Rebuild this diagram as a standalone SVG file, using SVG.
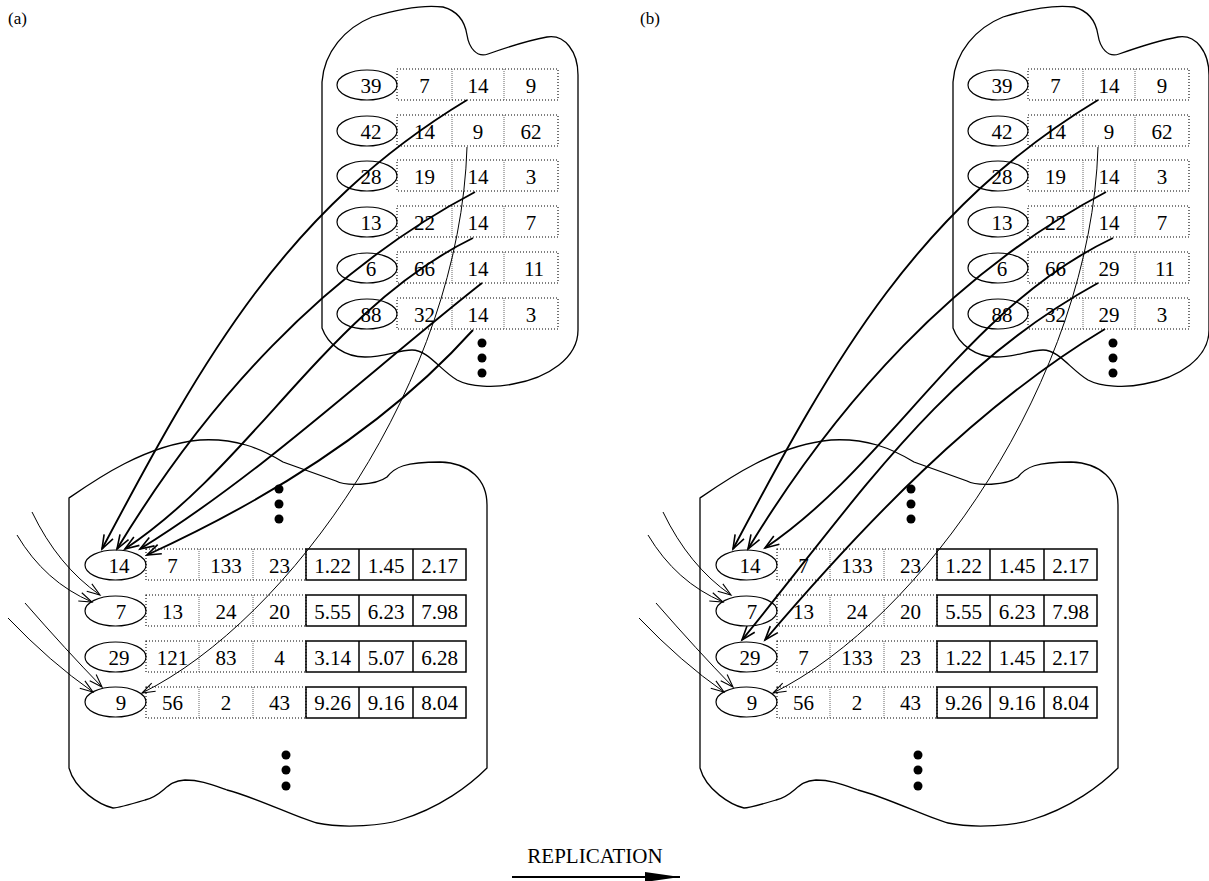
<svg xmlns="http://www.w3.org/2000/svg" width="1209" height="881" viewBox="0 0 1209 881">
<style>
.blob{fill:none;stroke:#000;stroke-width:1.3}
.el{fill:#fff;stroke:#000;stroke-width:1.2}
.dc{fill:none;stroke:#000;stroke-width:1.1;stroke-dasharray:1 2}
.dv{stroke:#666;stroke-width:1;stroke-dasharray:1 1}
.sc{fill:none;stroke:#000;stroke-width:1.5}
text{font-family:"Liberation Serif","Times New Roman",serif;font-size:21px;text-anchor:middle;fill:#000}
.lbl{font-size:17px;text-anchor:start}
.thick{fill:none;stroke:#000;stroke-width:1.9;marker-end:url(#hT)}
.thin{fill:none;stroke:#000;stroke-width:1;marker-end:url(#ht)}
.dot{fill:#000}
</style>
<defs>
<marker id="hT" markerUnits="userSpaceOnUse" markerWidth="20" markerHeight="14" viewBox="-16 -7 20 14" refX="0" refY="0" orient="auto" overflow="visible"><path d="M-14,-5 L0,0 L-14,5" fill="none" stroke="#000" stroke-width="1.6"/></marker>
<marker id="ht" markerUnits="userSpaceOnUse" markerWidth="20" markerHeight="14" viewBox="-16 -7 20 14" refX="0" refY="0" orient="auto" overflow="visible"><path d="M-13,-4.5 L0,0 L-13,4.5" fill="none" stroke="#000" stroke-width="1.1"/></marker>
<marker id="hF" markerUnits="userSpaceOnUse" markerWidth="40" markerHeight="14" viewBox="-36 -7 40 14" refX="0" refY="0" orient="auto" overflow="visible"><path d="M-35,-5 L0,0 L-35,5 Z" fill="#000"/></marker>
<path id="topBlob" d="M322,328 L322,82 C324,52 345,28 372,17 C395,10 420,4 443,7 C458,11 465,22 467,35 C469,48 477,58 488,54 C505,48 525,41 547,37 C565,34 578,52 578,75 L578,330 C578,358 548,378 513,384 C495,388 470,387 457,380 C440,370 428,350 412,350 C398,350 385,357 365,357 C345,357 328,345 322,328 Z"/>
<path id="botBlob" d="M69,768 L69,498 C95,480 145,445 200,440 C235,438 260,448 283,462 L336,481 C345,486 375,486 387,477 C395,467 405,462 440,462 C470,463 487,480 487,505 L487,768 C470,785 440,808 400,820 C385,825 345,829 317,823 C300,819 255,797 227,790 C210,784 200,780 185,780 C165,781 165,795 145,800 C125,806 117,808 113,808 C100,805 75,790 69,768 Z"/>
</defs>

<text class="lbl" x="8" y="24">(a)</text>
<text class="lbl" x="640" y="24">(b)</text>

<!-- ================= PANEL A ================= -->
<g id="panel-a">
<g id="a-source">
<use href="#topBlob" class="blob"/>
<g id="a-s1"><ellipse class="el" cx="367" cy="85" rx="30" ry="15"/><rect class="dc" x="397" y="69" width="161" height="31"/><line class="dv" x1="452" y1="69" x2="452" y2="100"/><line class="dv" x1="504" y1="69" x2="504" y2="100"/><text x="371" y="92.5">39</text><text x="424.5" y="92.5">7</text><text x="478" y="92.5">14</text><text x="531" y="92.5">9</text></g>
<g id="a-s2"><ellipse class="el" cx="367" cy="131" rx="30" ry="15"/><rect class="dc" x="397" y="115" width="161" height="31"/><line class="dv" x1="452" y1="115" x2="452" y2="146"/><line class="dv" x1="504" y1="115" x2="504" y2="146"/><text x="371" y="138.5">42</text><text x="424.5" y="138.5">14</text><text x="478" y="138.5">9</text><text x="531" y="138.5">62</text></g>
<g id="a-s3"><ellipse class="el" cx="367" cy="176" rx="30" ry="15"/><rect class="dc" x="397" y="160" width="161" height="31"/><line class="dv" x1="452" y1="160" x2="452" y2="191"/><line class="dv" x1="504" y1="160" x2="504" y2="191"/><text x="371" y="183.5">28</text><text x="424.5" y="183.5">19</text><text x="478" y="183.5">14</text><text x="531" y="183.5">3</text></g>
<g id="a-s4"><ellipse class="el" cx="367" cy="222" rx="30" ry="15"/><rect class="dc" x="397" y="206" width="161" height="31"/><line class="dv" x1="452" y1="206" x2="452" y2="237"/><line class="dv" x1="504" y1="206" x2="504" y2="237"/><text x="371" y="229.5">13</text><text x="424.5" y="229.5">22</text><text x="478" y="229.5">14</text><text x="531" y="229.5">7</text></g>
<g id="a-s5"><ellipse class="el" cx="367" cy="268" rx="30" ry="15"/><rect class="dc" x="397" y="252" width="161" height="31"/><line class="dv" x1="452" y1="252" x2="452" y2="283"/><line class="dv" x1="504" y1="252" x2="504" y2="283"/><text x="371" y="275.5">6</text><text x="424.5" y="275.5">66</text><text x="478" y="275.5">14</text><text x="534" y="275.5">11</text></g>
<g id="a-s6"><ellipse class="el" cx="367" cy="314" rx="30" ry="15"/><rect class="dc" x="397" y="298" width="161" height="31"/><line class="dv" x1="452" y1="298" x2="452" y2="329"/><line class="dv" x1="504" y1="298" x2="504" y2="329"/><text x="371" y="321.5">88</text><text x="424.5" y="321.5">32</text><text x="478" y="321.5">14</text><text x="531" y="321.5">3</text></g>
<circle class="dot" cx="482" cy="343" r="4.5"/><circle class="dot" cx="482" cy="358" r="4.5"/><circle class="dot" cx="482" cy="373" r="4.5"/>
</g>

<g id="a-target">
<use href="#botBlob" class="blob"/>
<circle class="dot" cx="279" cy="489" r="4.5"/><circle class="dot" cx="279" cy="504" r="4.5"/><circle class="dot" cx="279" cy="519" r="4.5"/>
<g id="a-t1"><ellipse class="el" cx="115.5" cy="565" rx="30.5" ry="15"/><rect class="dc" x="146" y="549" width="160" height="31"/><line class="dv" x1="199" y1="549" x2="199" y2="580"/><line class="dv" x1="253" y1="549" x2="253" y2="580"/><rect class="sc" x="306" y="549" width="160" height="31"/><line class="sc" x1="359" y1="549" x2="359" y2="580"/><line class="sc" x1="413" y1="549" x2="413" y2="580"/><text x="119" y="572.5">14</text><text x="172.5" y="572.5">7</text><text x="226" y="572.5">133</text><text x="279.5" y="572.5">23</text><text x="332.5" y="572.5">1.22</text><text x="386" y="572.5">1.45</text><text x="439.5" y="572.5">2.17</text></g>
<g id="a-t2"><ellipse class="el" cx="115.5" cy="611" rx="30.5" ry="15"/><rect class="dc" x="146" y="595" width="160" height="31"/><line class="dv" x1="199" y1="595" x2="199" y2="626"/><line class="dv" x1="253" y1="595" x2="253" y2="626"/><rect class="sc" x="306" y="595" width="160" height="31"/><line class="sc" x1="359" y1="595" x2="359" y2="626"/><line class="sc" x1="413" y1="595" x2="413" y2="626"/><text x="121" y="618.5">7</text><text x="172.5" y="618.5">13</text><text x="226" y="618.5">24</text><text x="279.5" y="618.5">20</text><text x="332.5" y="618.5">5.55</text><text x="386" y="618.5">6.23</text><text x="439.5" y="618.5">7.98</text></g>
<g id="a-t3"><ellipse class="el" cx="115.5" cy="657" rx="30.5" ry="15"/><rect class="dc" x="146" y="641" width="160" height="31"/><line class="dv" x1="199" y1="641" x2="199" y2="672"/><line class="dv" x1="253" y1="641" x2="253" y2="672"/><rect class="sc" x="306" y="641" width="160" height="31"/><line class="sc" x1="359" y1="641" x2="359" y2="672"/><line class="sc" x1="413" y1="641" x2="413" y2="672"/><text x="119" y="664.5">29</text><text x="172.5" y="664.5">121</text><text x="226" y="664.5">83</text><text x="279.5" y="664.5">4</text><text x="332.5" y="664.5">3.14</text><text x="386" y="664.5">5.07</text><text x="439.5" y="664.5">6.28</text></g>
<g id="a-t4"><ellipse class="el" cx="115.5" cy="702" rx="30.5" ry="15"/><rect class="dc" x="146" y="687" width="160" height="31"/><line class="dv" x1="199" y1="687" x2="199" y2="718"/><line class="dv" x1="253" y1="687" x2="253" y2="718"/><rect class="sc" x="306" y="687" width="160" height="31"/><line class="sc" x1="359" y1="687" x2="359" y2="718"/><line class="sc" x1="413" y1="687" x2="413" y2="718"/><text x="121" y="709.5">9</text><text x="172.5" y="709.5">56</text><text x="226" y="709.5">2</text><text x="279.5" y="709.5">43</text><text x="332.5" y="709.5">9.26</text><text x="386" y="709.5">9.16</text><text x="439.5" y="709.5">8.04</text></g>
<circle class="dot" cx="286" cy="755" r="4.5"/><circle class="dot" cx="286" cy="770" r="4.5"/><circle class="dot" cx="286" cy="786" r="4.5"/>
</g>

<g id="a-connectors">
<path class="thick" d="M467,100 C287,209 204,356 102,549"/>
<path class="thick" d="M475,192 C323,272 205,404 117,549"/>
<path class="thick" d="M473,238 C328,309 254,463 125,549"/>
<path class="thick" d="M482,283 C369,372 260,475 140,549"/>
<path class="thick" d="M473,330 C384,429 267,500 147,555"/>
<path class="thin" d="M467,147 C460,380 290,620 142,693"/>
<path class="thin" d="M32,512 Q58,566 100,595"/>
<path class="thin" d="M17,535 Q45,582 92,602"/>
<path class="thin" d="M25,603 Q66,650 102,687"/>
<path class="thin" d="M8,618 Q50,662 93,692"/>
</g>
</g>

<!-- ================= PANEL B ================= -->
<g id="panel-b" transform="translate(631,0)">
<g id="b-source">
<use href="#topBlob" class="blob"/>
<g id="b-s1"><ellipse class="el" cx="367" cy="85" rx="30" ry="15"/><rect class="dc" x="397" y="69" width="161" height="31"/><line class="dv" x1="452" y1="69" x2="452" y2="100"/><line class="dv" x1="504" y1="69" x2="504" y2="100"/><text x="371" y="92.5">39</text><text x="424.5" y="92.5">7</text><text x="478" y="92.5">14</text><text x="531" y="92.5">9</text></g>
<g id="b-s2"><ellipse class="el" cx="367" cy="131" rx="30" ry="15"/><rect class="dc" x="397" y="115" width="161" height="31"/><line class="dv" x1="452" y1="115" x2="452" y2="146"/><line class="dv" x1="504" y1="115" x2="504" y2="146"/><text x="371" y="138.5">42</text><text x="424.5" y="138.5">14</text><text x="478" y="138.5">9</text><text x="531" y="138.5">62</text></g>
<g id="b-s3"><ellipse class="el" cx="367" cy="176" rx="30" ry="15"/><rect class="dc" x="397" y="160" width="161" height="31"/><line class="dv" x1="452" y1="160" x2="452" y2="191"/><line class="dv" x1="504" y1="160" x2="504" y2="191"/><text x="371" y="183.5">28</text><text x="424.5" y="183.5">19</text><text x="478" y="183.5">14</text><text x="531" y="183.5">3</text></g>
<g id="b-s4"><ellipse class="el" cx="367" cy="222" rx="30" ry="15"/><rect class="dc" x="397" y="206" width="161" height="31"/><line class="dv" x1="452" y1="206" x2="452" y2="237"/><line class="dv" x1="504" y1="206" x2="504" y2="237"/><text x="371" y="229.5">13</text><text x="424.5" y="229.5">22</text><text x="478" y="229.5">14</text><text x="531" y="229.5">7</text></g>
<g id="b-s5"><ellipse class="el" cx="367" cy="268" rx="30" ry="15"/><rect class="dc" x="397" y="252" width="161" height="31"/><line class="dv" x1="452" y1="252" x2="452" y2="283"/><line class="dv" x1="504" y1="252" x2="504" y2="283"/><text x="371" y="275.5">6</text><text x="424.5" y="275.5">66</text><text x="478" y="275.5">29</text><text x="534" y="275.5">11</text></g>
<g id="b-s6"><ellipse class="el" cx="367" cy="314" rx="30" ry="15"/><rect class="dc" x="397" y="298" width="161" height="31"/><line class="dv" x1="452" y1="298" x2="452" y2="329"/><line class="dv" x1="504" y1="298" x2="504" y2="329"/><text x="371" y="321.5">88</text><text x="424.5" y="321.5">32</text><text x="478" y="321.5">29</text><text x="531" y="321.5">3</text></g>
<circle class="dot" cx="482" cy="343" r="4.5"/><circle class="dot" cx="482" cy="358" r="4.5"/><circle class="dot" cx="482" cy="373" r="4.5"/>
</g>

<g id="b-target">
<use href="#botBlob" class="blob"/>
<circle class="dot" cx="280" cy="489" r="4.5"/><circle class="dot" cx="280" cy="504" r="4.5"/><circle class="dot" cx="280" cy="519" r="4.5"/>
<g id="b-t1"><ellipse class="el" cx="115.5" cy="565" rx="30.5" ry="15"/><rect class="dc" x="146" y="549" width="160" height="31"/><line class="dv" x1="199" y1="549" x2="199" y2="580"/><line class="dv" x1="253" y1="549" x2="253" y2="580"/><rect class="sc" x="306" y="549" width="160" height="31"/><line class="sc" x1="359" y1="549" x2="359" y2="580"/><line class="sc" x1="413" y1="549" x2="413" y2="580"/><text x="119" y="572.5">14</text><text x="172.5" y="572.5">7</text><text x="226" y="572.5">133</text><text x="279.5" y="572.5">23</text><text x="332.5" y="572.5">1.22</text><text x="386" y="572.5">1.45</text><text x="439.5" y="572.5">2.17</text></g>
<g id="b-t2"><ellipse class="el" cx="115.5" cy="611" rx="30.5" ry="15"/><rect class="dc" x="146" y="595" width="160" height="31"/><line class="dv" x1="199" y1="595" x2="199" y2="626"/><line class="dv" x1="253" y1="595" x2="253" y2="626"/><rect class="sc" x="306" y="595" width="160" height="31"/><line class="sc" x1="359" y1="595" x2="359" y2="626"/><line class="sc" x1="413" y1="595" x2="413" y2="626"/><text x="121" y="618.5">7</text><text x="172.5" y="618.5">13</text><text x="226" y="618.5">24</text><text x="279.5" y="618.5">20</text><text x="332.5" y="618.5">5.55</text><text x="386" y="618.5">6.23</text><text x="439.5" y="618.5">7.98</text></g>
<g id="b-t3"><ellipse class="el" cx="115.5" cy="657" rx="30.5" ry="15"/><rect class="dc" x="146" y="641" width="160" height="31"/><line class="dv" x1="199" y1="641" x2="199" y2="672"/><line class="dv" x1="253" y1="641" x2="253" y2="672"/><rect class="sc" x="306" y="641" width="160" height="31"/><line class="sc" x1="359" y1="641" x2="359" y2="672"/><line class="sc" x1="413" y1="641" x2="413" y2="672"/><text x="119" y="664.5">29</text><text x="172.5" y="664.5">7</text><text x="226" y="664.5">133</text><text x="279.5" y="664.5">23</text><text x="332.5" y="664.5">1.22</text><text x="386" y="664.5">1.45</text><text x="439.5" y="664.5">2.17</text></g>
<g id="b-t4"><ellipse class="el" cx="115.5" cy="702" rx="30.5" ry="15"/><rect class="dc" x="146" y="687" width="160" height="31"/><line class="dv" x1="199" y1="687" x2="199" y2="718"/><line class="dv" x1="253" y1="687" x2="253" y2="718"/><rect class="sc" x="306" y="687" width="160" height="31"/><line class="sc" x1="359" y1="687" x2="359" y2="718"/><line class="sc" x1="413" y1="687" x2="413" y2="718"/><text x="121" y="709.5">9</text><text x="172.5" y="709.5">56</text><text x="226" y="709.5">2</text><text x="279.5" y="709.5">43</text><text x="332.5" y="709.5">9.26</text><text x="386" y="709.5">9.16</text><text x="439.5" y="709.5">8.04</text></g>
<circle class="dot" cx="287" cy="755" r="4.5"/><circle class="dot" cx="287" cy="770" r="4.5"/><circle class="dot" cx="287" cy="786" r="4.5"/>
</g>

<g id="b-connectors">
<path class="thick" d="M467,100 C287,209 204,356 102,549"/>
<path class="thick" d="M475,192 C323,272 205,404 117,549"/>
<path class="thick" d="M482,238 C333,309 260,463 134,548"/>
<path class="thick" d="M467,283 C309,370 230,494 111,640"/>
<path class="thick" d="M474,329 C344,407 231,526 134,640"/>
<path class="thin" d="M467,147 C460,380 290,620 142,693"/>
<path class="thin" d="M32,512 Q58,566 100,595"/>
<path class="thin" d="M17,535 Q45,582 92,602"/>
<path class="thin" d="M25,603 Q66,650 102,687"/>
<path class="thin" d="M8,618 Q50,662 93,692"/>
</g>
</g>

<g id="replication">
<text x="595" y="863" style="font-size:21px">REPLICATION</text>
<line x1="512" y1="877" x2="680" y2="877" stroke="#000" stroke-width="2" marker-end="url(#hF)"/>
</g>
</svg>
